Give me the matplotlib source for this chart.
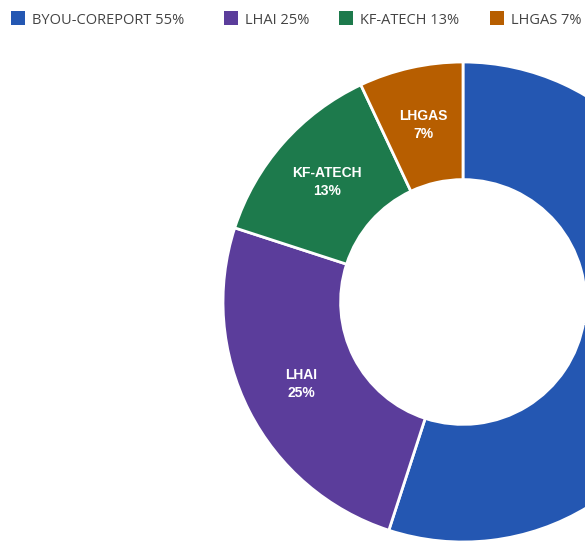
import matplotlib.pyplot as plt
from matplotlib.patches import Rectangle

names = ["BYOU-COREPORT", "LHAI", "KF-ATECH", "LHGAS"]
shares = [55, 25, 13, 7]
colors = ["#2457B2", "#5B3D9B", "#1D7A4C", "#B75E00"]

W, H = 585, 543
fig = plt.figure(figsize=(W / 100, H / 100), dpi=100)
ax = fig.add_axes([0, 0, 1, 1])

labels = [f"{n}\n{s}%" for n, s in zip(names, shares)]
ax.pie(shares, colors=colors, labels=labels, startangle=90, counterclock=False,
       radius=1, labeldistance=0.755,
       wedgeprops=dict(width=0.49, edgecolor="white", linewidth=2),
       textprops=dict(ha="center", va="center", color="white", fontweight="bold",
                      fontsize=10, family="Liberation Sans", linespacing=1.35))

# pie center at (463, 302) px, radius 240 px
scale = 240.0
cx, cy = 463, 302
ax.set_xlim(-cx / scale, (W - cx) / scale)
ax.set_ylim(-(H - cy) / scale, cy / scale)
ax.set_aspect("auto")
ax.axis("off")

# legend row along the top, laid out by hand in pixels
leg_x = [11, 224, 339, 490]
for x, n, s, c in zip(leg_x, names, shares, colors):
    fig.patches.append(Rectangle((x / W, 1 - 25 / H), 14 / W, 14 / H,
                                 transform=fig.transFigure, facecolor=c,
                                 edgecolor="none"))
    fig.text((x + 21) / W, 1 - 20 / H, f"{n} {s}%", ha="left", va="center",
             fontsize=10.5, family="Open Sans", color="#444444")

fig.savefig("out.png", dpi=100)
